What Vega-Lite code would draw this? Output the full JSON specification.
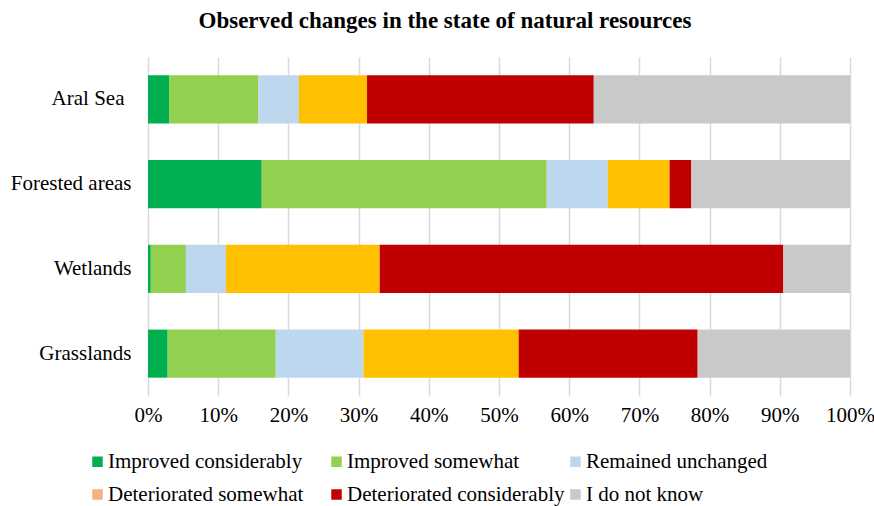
{
  "$schema": "https://vega.github.io/schema/vega-lite/v6.json",
  "autosize": {"type": "none"},
  "width": 702,
  "height": 339,
  "padding": {"left": 148, "top": 57, "right": 24, "bottom": 110},
  "background": "white",
  "title": {
    "text": "Observed changes in the state of natural resources",
    "font": "Liberation Serif, Times New Roman, serif",
    "fontSize": 23,
    "fontWeight": "bold",
    "color": "#000000",
    "anchor": "middle",
    "dx": -54,
    "baseline": "alphabetic",
    "offset": 6
  },
  "config": {
    "view": {"stroke": null},
    "font": "Liberation Serif, Times New Roman, serif"
  },
  "data": {
    "values": [
      {"resource": "Aral Sea", "change": "Improved considerably", "pct": 3.0, "rank": 1},
      {"resource": "Aral Sea", "change": "Improved somewhat", "pct": 12.7, "rank": 2},
      {"resource": "Aral Sea", "change": "Remained unchanged", "pct": 5.8, "rank": 3},
      {"resource": "Aral Sea", "change": "Deteriorated somewhat", "pct": 9.7, "rank": 4},
      {"resource": "Aral Sea", "change": "Deteriorated considerably", "pct": 32.3, "rank": 5},
      {"resource": "Aral Sea", "change": "I do not know", "pct": 36.5, "rank": 6},
      {"resource": "Forested areas", "change": "Improved considerably", "pct": 16.2, "rank": 1},
      {"resource": "Forested areas", "change": "Improved somewhat", "pct": 40.6, "rank": 2},
      {"resource": "Forested areas", "change": "Remained unchanged", "pct": 8.7, "rank": 3},
      {"resource": "Forested areas", "change": "Deteriorated somewhat", "pct": 8.8, "rank": 4},
      {"resource": "Forested areas", "change": "Deteriorated considerably", "pct": 3.1, "rank": 5},
      {"resource": "Forested areas", "change": "I do not know", "pct": 22.6, "rank": 6},
      {"resource": "Wetlands", "change": "Improved considerably", "pct": 0.4, "rank": 1},
      {"resource": "Wetlands", "change": "Improved somewhat", "pct": 5.0, "rank": 2},
      {"resource": "Wetlands", "change": "Remained unchanged", "pct": 5.7, "rank": 3},
      {"resource": "Wetlands", "change": "Deteriorated somewhat", "pct": 21.9, "rank": 4},
      {"resource": "Wetlands", "change": "Deteriorated considerably", "pct": 57.5, "rank": 5},
      {"resource": "Wetlands", "change": "I do not know", "pct": 9.5, "rank": 6},
      {"resource": "Grasslands", "change": "Improved considerably", "pct": 2.8, "rank": 1},
      {"resource": "Grasslands", "change": "Improved somewhat", "pct": 15.4, "rank": 2},
      {"resource": "Grasslands", "change": "Remained unchanged", "pct": 12.5, "rank": 3},
      {"resource": "Grasslands", "change": "Deteriorated somewhat", "pct": 22.1, "rank": 4},
      {"resource": "Grasslands", "change": "Deteriorated considerably", "pct": 25.5, "rank": 5},
      {"resource": "Grasslands", "change": "I do not know", "pct": 21.7, "rank": 6}
    ]
  },
  "layer": [
    {
      "mark": {"type": "bar"},
      "encoding": {
        "y": {
          "field": "resource",
          "type": "nominal",
          "sort": ["Aral Sea", "Forested areas", "Wetlands", "Grasslands"],
          "scale": {"paddingInner": 0.433, "paddingOuter": 0.2165},
          "axis": {
            "title": null,
            "domain": false,
            "ticks": false,
            "labelFont": "Liberation Serif, Times New Roman, serif",
            "labelFontSize": 21,
            "labelColor": "#000000",
            "labelPadding": {"condition": {"test": "datum.value == 'Aral Sea'", "value": 24}, "value": 17}
          }
        },
        "x": {
          "field": "pct",
          "type": "quantitative",
          "stack": "normalize",
          "scale": {"domain": [0, 1], "nice": false},
          "axis": {
            "title": null,
            "format": ".0%",
            "values": [0, 0.1, 0.2, 0.3, 0.4, 0.5, 0.6, 0.7, 0.8, 0.9, 1],
            "domain": false,
            "ticks": false,
            "grid": true,
            "gridColor": "#D9D9D9",
            "gridWidth": 1.5,
            "labelFont": "Liberation Serif, Times New Roman, serif",
            "labelFontSize": 21,
            "labelColor": "#000000",
            "labelPadding": 8,
            "labelFlush": false
          }
        },
        "order": {"field": "rank", "type": "quantitative"},
        "fill": {
          "field": "change",
          "type": "nominal",
          "scale": {
            "range": ["#C00000", "#FFC000", "#C9C9C9", "#00B050", "#92D050", "#BDD7EE"]
          },
          "legend": null
        }
      }
    },
    {
      "mark": {"type": "square", "opacity": 0, "filled": true},
      "encoding": {
        "color": {
          "field": "change",
          "type": "nominal",
          "scale": {
            "domain": ["Improved considerably", "Improved somewhat", "Remained unchanged", "Deteriorated somewhat", "Deteriorated considerably", "I do not know"],
            "range": ["#00B050", "#92D050", "#BDD7EE", "#F4B183", "#C00000", "#C9C9C9"]
          },
          "legend": {
            "title": null,
            "orient": "none",
            "legendX": -61,
            "legendY": 394,
            "direction": "horizontal",
            "columns": 3,
            "gridAlign": "all",
            "columnPadding": 0,
            "rowPadding": 11,
            "symbolType": "square",
            "symbolSize": 110,
            "symbolStrokeWidth": 0,
            "symbolOpacity": 1,
            "labelFont": "Liberation Serif, Times New Roman, serif",
            "labelFontSize": 21,
            "labelColor": "#000000",
            "labelOffset": 0,
            "labelLimit": 400
          }
        }
      }
    }
  ]
}
